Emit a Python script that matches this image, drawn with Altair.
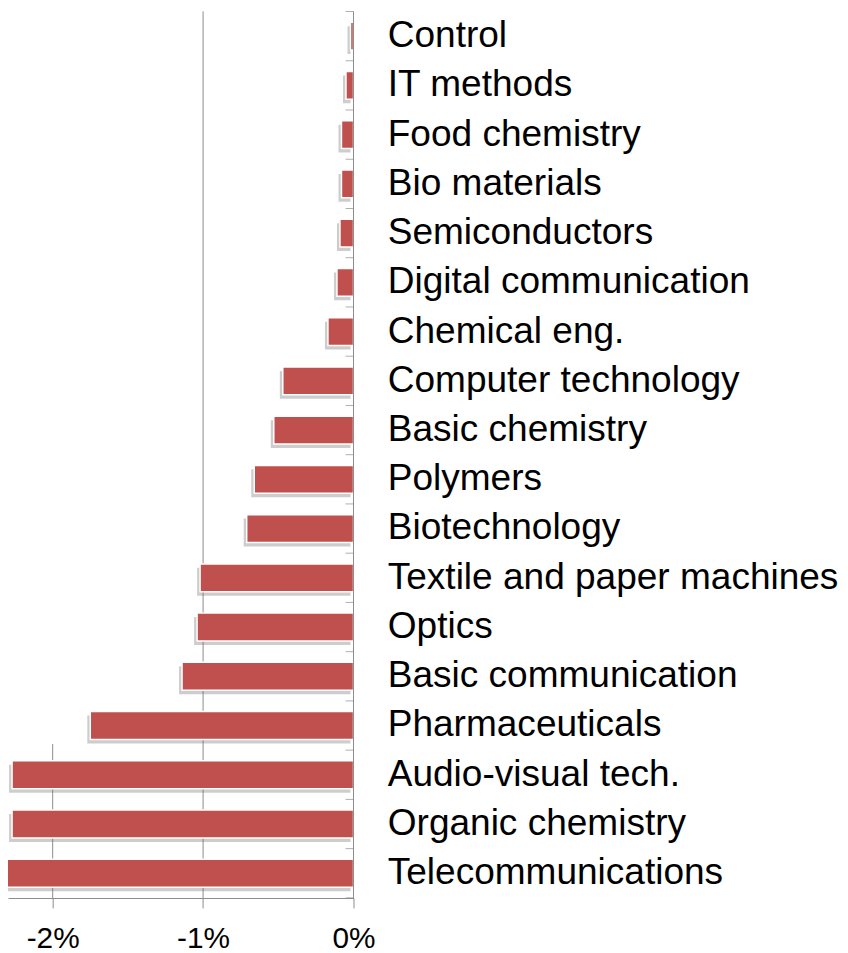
import altair as alt
import pandas as pd

categories = [
    "Control", "IT methods", "Food chemistry", "Bio materials", "Semiconductors",
    "Digital communication", "Chemical eng.", "Computer technology", "Basic chemistry",
    "Polymers", "Biotechnology", "Textile and paper machines", "Optics",
    "Basic communication", "Pharmaceuticals", "Audio-visual tech.",
    "Organic chemistry", "Telecommunications",
]
values = [
    -0.02, -0.05, -0.08, -0.08, -0.09,
    -0.11, -0.17, -0.47, -0.53,
    -0.66, -0.71, -1.02, -1.04,
    -1.14, -1.75, -2.27,
    -2.27, -2.45,
]
tick_values = [-2, -1, 0]
grid_full = [-1]
grid_partial = [-2]
zero_line = [0]

df = pd.DataFrame({"category": categories, "value": values})

W, H = 348, 893
PI, PO = 0.435, 0.22
STEP = H / (len(categories) - PI + 2 * PO)
FONT = "Liberation Sans"
GRAY = "#8c8c8c"

y_scale = alt.Scale(domain=categories, paddingInner=PI, paddingOuter=PO)
x_scale = alt.Scale(domain=[-2.297, 0], nice=False, zero=False)

x_axis = alt.Axis(
    values=tick_values, labelExpr="datum.value + '%'", grid=False,
    tickSize=10, tickColor=GRAY, domainColor=GRAY, labelFontSize=30,
    labelFont=FONT, labelColor="black", labelPadding=16, title=None,
    labelFlush=False,
)
y_axis = alt.Axis(
    orient="right", labels=True, ticks=False, domain=False,
    labelPadding=34, labelFontSize=37.3, labelFont=FONT,
    labelColor="black", labelLimit=700, title=None, grid=False,
)

grid1 = alt.Chart(pd.DataFrame({"g": grid_full})).mark_rule(
    color=GRAY, strokeWidth=1
).encode(x=alt.X("g:Q", scale=x_scale, axis=x_axis, title=None))

grid2 = alt.Chart(pd.DataFrame({"g": grid_partial})).mark_rule(
    color=GRAY, strokeWidth=1
).encode(
    x=alt.X("g:Q", scale=x_scale, axis=x_axis, title=None),
    y=alt.value(738),
    y2=alt.value(H),
)

zero = alt.Chart(pd.DataFrame({"z": zero_line})).mark_rule(
    color=GRAY, strokeWidth=1
).encode(x=alt.X("z:Q", scale=x_scale, axis=x_axis, title=None))

# category-boundary ticks on the zero line, pointing left
ticks_top = alt.Chart(df).mark_tick(
    orient="horizontal", size=8, thickness=1, color=GRAY,
    xOffset=-4, yOffset=-STEP / 2,
).encode(
    x=alt.X("zz:Q", scale=x_scale, axis=x_axis, title=None),
    y=alt.Y("category:N", scale=y_scale, sort=categories, axis=y_axis),
).transform_calculate(zz="0")

ticks_bottom = alt.Chart(df.tail(1)).mark_tick(
    orient="horizontal", size=8, thickness=1, color=GRAY,
    xOffset=-4, yOffset=STEP / 2,
).encode(
    x=alt.X("zz:Q", scale=x_scale, axis=x_axis, title=None),
    y=alt.Y("category:N", scale=y_scale, sort=categories, axis=y_axis),
).transform_calculate(zz="0")

shadow = alt.Chart(df).mark_bar(
    color="#6f6f6f", opacity=0.35, xOffset=-3, yOffset=4, clip=True
).encode(
    x=alt.X("value:Q", scale=x_scale, axis=x_axis, title=None),
    y=alt.Y("category:N", scale=y_scale, sort=categories, axis=y_axis),
)

bars = alt.Chart(df).mark_bar(
    color="#C0504D", stroke="white", strokeWidth=1.5, clip=True
).encode(
    x=alt.X("value:Q", scale=x_scale, axis=x_axis, title=None),
    y=alt.Y("category:N", scale=y_scale, sort=categories, axis=y_axis),
)

chart = alt.layer(grid1, grid2, ticks_top, ticks_bottom, shadow, bars, zero).properties(
    width=W,
    height=H,
    autosize=alt.AutoSizeParams(type="none"),
    padding={"left": 0, "top": 0, "right": 490, "bottom": 52},
).configure_view(stroke=None)

chart.save("out.html", embed_options={"renderer": "svg", "actions": False})
